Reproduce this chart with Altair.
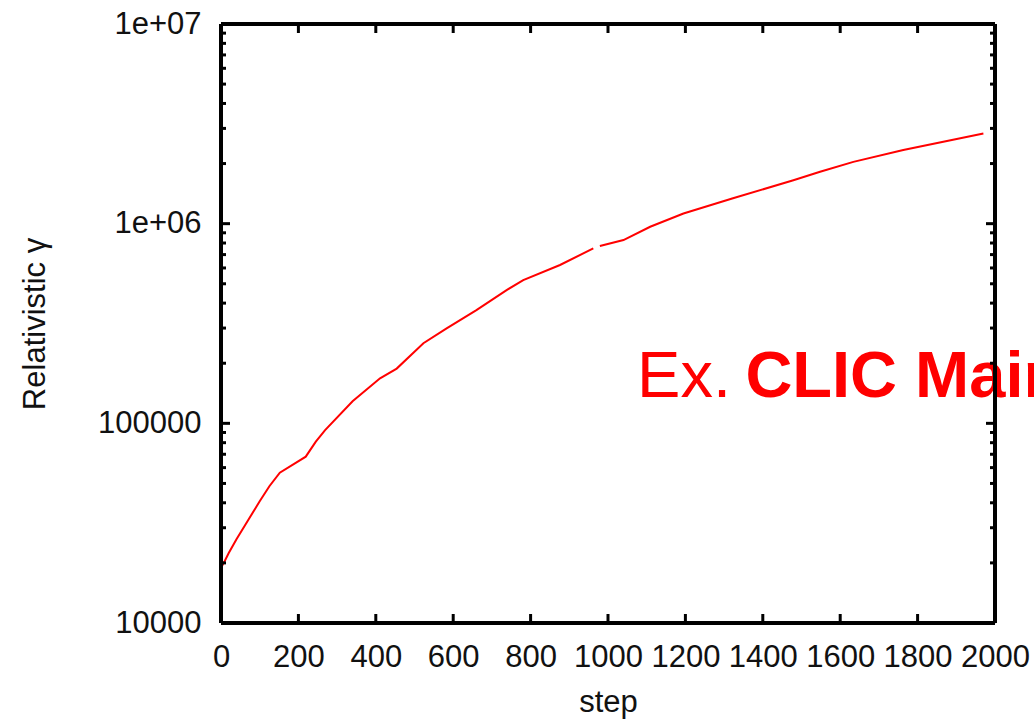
import altair as alt
import pandas as pd

# Relativistic gamma of the beam along the accelerator, per integration step
steps_a = [0, 10, 20, 40, 70, 100, 125, 152, 219, 245, 269, 340, 411, 454, 523, 583,
           660, 738, 781, 876, 962]
gamma_a = [18900, 20500, 22400, 26300, 32700, 40700, 48400, 56600, 68100, 81000, 92500,
           129000, 168000, 188000, 252000, 299000, 369000, 465000, 522000, 621000, 752000]
steps_b = [979, 1040, 1109, 1195, 1323, 1479, 1548, 1634, 1763, 1970]
gamma_b = [773000, 828000, 965000, 1125000, 1340000, 1650000, 1820000, 2040000,
           2340000, 2830000]

x_major = list(range(0, 2001, 200))
y_major = [1e4, 1e5, 1e6, 1e7]
y_minor = [k * 10 ** d for d in (4, 5, 6) for k in range(2, 10)]

note_plain = "Ex."
note_bold = "CLIC Main"
note_x = [1075, 1355]
note_y = 135500

W, H = 774, 599
FONT = "Liberation Sans"

curve = pd.DataFrame({
    "step": steps_a + steps_b,
    "gamma": gamma_a + gamma_b,
    "seg": ["a"] * len(steps_a) + ["b"] * len(steps_b),
})
xt = pd.DataFrame({"v": x_major})
yt = pd.DataFrame({"v": y_major})
ym = pd.DataFrame({"v": y_minor})

xs = alt.Scale(domain=[0, 2000], nice=False, zero=False)
ys = alt.Scale(type="log", domain=[1e4, 1e7], nice=False)

ax_x = alt.Axis(values=x_major, format="d", ticks=False, domain=False, grid=False,
                labelFontSize=31, labelFont=FONT, labelColor="#111",
                labelPadding=19, labelOverlap=False, labelFlush=False,
                titleFontSize=31, titleFont=FONT, titleFontWeight="normal",
                titleColor="#111", titlePadding=15)
ax_y = alt.Axis(values=y_major, ticks=False, domain=False, grid=False,
                labelFontSize=31, labelFont=FONT, labelColor="#111",
                labelPadding=20, labelFlush=False,
                labelExpr="datum.value >= 1000000 ? '1e+0' + round(log(datum.value) / LN10) : format(datum.value, 'd')",
                titleFontSize=31, titleFont=FONT, titleFontWeight="normal",
                titleColor="#111", titlePadding=46)
XT, YT = "step", "Relativistic γ"


def X(field):
    return alt.X(field, scale=xs, axis=ax_x, title=XT)


def Y(field):
    return alt.Y(field, scale=ys, axis=ax_y, title=YT)


line = alt.Chart(curve).mark_line(color="#ff0000", strokeWidth=2).encode(
    x=X("step:Q"), y=Y("gamma:Q"), detail="seg:N",
)

txt1 = alt.Chart(pd.DataFrame({"x": [note_x[0]], "y": [note_y], "t": [note_plain]})).mark_text(
    font=FONT, fontSize=65, color="#ff0000", align="left", baseline="alphabetic"
).encode(x=X("x:Q"), y=Y("y:Q"), text="t:N")
txt2 = alt.Chart(pd.DataFrame({"x": [note_x[1]], "y": [note_y], "t": [note_bold]})).mark_text(
    font=FONT, fontSize=65, fontWeight="bold", color="#ff0000", align="left", baseline="alphabetic"
).encode(x=X("x:Q"), y=Y("y:Q"), text="t:N")

tick_style = dict(color="black", strokeWidth=3)
bottom_t = alt.Chart(xt).mark_rule(**tick_style).encode(
    x=X("v:Q"), y=alt.value(H), y2=alt.value(H - 9))
top_t = alt.Chart(xt).mark_rule(**tick_style).encode(
    x=X("v:Q"), y=alt.value(0), y2=alt.value(9))
left_t = alt.Chart(yt).mark_rule(**tick_style).encode(
    y=Y("v:Q"), x=alt.value(0), x2=alt.value(9))
right_t = alt.Chart(yt).mark_rule(**tick_style).encode(
    y=Y("v:Q"), x=alt.value(W), x2=alt.value(W - 9))
left_m = alt.Chart(ym).mark_rule(**tick_style).encode(
    y=Y("v:Q"), x=alt.value(0), x2=alt.value(5))
right_m = alt.Chart(ym).mark_rule(**tick_style).encode(
    y=Y("v:Q"), x=alt.value(W), x2=alt.value(W - 5))

# plot frame drawn last so it sits above the annotation
frame_style = dict(color="black", strokeWidth=3.5)
fl = alt.Chart(xt).mark_rule(**frame_style).encode(x=alt.datum(0, scale=xs, axis=ax_x, title=XT))
fr = alt.Chart(xt).mark_rule(**frame_style).encode(x=alt.datum(2000, scale=xs, axis=ax_x, title=XT))
fb = alt.Chart(yt).mark_rule(**frame_style).encode(y=alt.datum(1e4, scale=ys, axis=ax_y, title=YT))
ftop = alt.Chart(yt).mark_rule(**frame_style).encode(y=alt.datum(1e7, scale=ys, axis=ax_y, title=YT))

chart = alt.layer(
    line, txt1, txt2, bottom_t, top_t, left_t, right_t, left_m, right_m, fl, fr, fb, ftop
).properties(
    width=W, height=H,
    autosize=alt.AutoSizeParams(type="none"),
    padding={"left": 221, "top": 24, "right": 39, "bottom": 99},
).configure_view(stroke=None).configure(background="white")

chart.save("out.html", embed_options={"renderer": "svg", "actions": False})
